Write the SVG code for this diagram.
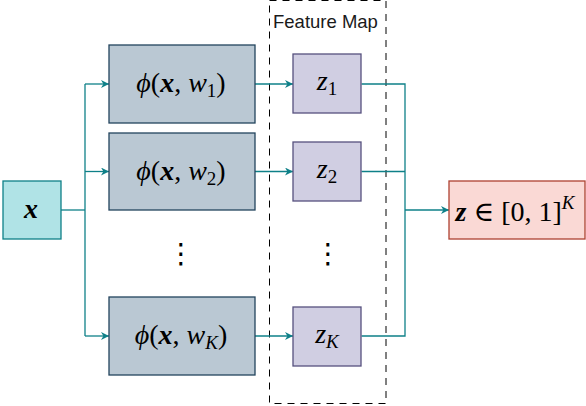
<svg xmlns="http://www.w3.org/2000/svg" width="586" height="406" viewBox="0 0 586 406">
<style>
.m{font-family:"Liberation Serif","DejaVu Serif",serif;font-style:italic;font-size:28px;fill:#000}
.b{font-weight:bold}
.up{font-style:normal}
.sub{font-size:19px}
.lbl{font-family:"Liberation Sans",Arial,sans-serif;font-size:18.5px;fill:#1a1a1a}
.dots{font-family:"DejaVu Sans",sans-serif;font-size:28px;fill:#000}
.phi{fill:#bac8d3;stroke:#23445d;stroke-width:1.3}
.z{fill:#d0cee2;stroke:#56517e;stroke-width:1.3}
.c{fill:none;stroke:#0e8088;stroke-width:1.3}
</style>
<defs>
<marker id="arr" viewBox="0 0 10 10" refX="10" refY="5" markerWidth="9" markerHeight="8" orient="auto" markerUnits="userSpaceOnUse">
<path d="M0,0 L10,5 L0,10 L3,5 z" fill="#0e8088"/>
</marker>
</defs>

<g id="feature-map">
<rect x="269.5" y="0.5" width="116.5" height="403" fill="none" stroke="#000" stroke-width="1" stroke-dasharray="7 6"/>
<text class="lbl" x="273" y="28">Feature Map</text>
</g>

<g id="connectors">
<path class="c" d="M61,210 H85" stroke-width="2"/>
<path class="c" d="M85,84 V336"/>
<path class="c" d="M85,84 H109" marker-end="url(#arr)"/>
<path class="c" d="M85,171.5 H109" marker-end="url(#arr)"/>
<path class="c" d="M85,336 H109" marker-end="url(#arr)"/>
<path class="c" d="M255,84 H293" marker-end="url(#arr)"/>
<path class="c" d="M255,171.5 H293" marker-end="url(#arr)"/>
<path class="c" d="M255,336 H293" marker-end="url(#arr)"/>
<path class="c" d="M361.5,84 H405 V336 H361.5"/>
<path class="c" d="M361.5,171.5 H405"/>
<path class="c" d="M405,210 H449" stroke-width="2" marker-end="url(#arr)"/>
</g>

<g id="node-x">
<rect x="3" y="181" width="58" height="58" fill="#b0e3e6" stroke="#0e8088" stroke-width="1.3"/>
<text class="m" x="31" y="218" text-anchor="middle" font-size="30"><tspan class="b">x</tspan></text>
</g>

<g id="node-phi1">
<rect class="phi" x="109" y="45" width="146" height="78"/>
<text class="m" x="181" y="92" text-anchor="middle">ϕ<tspan class="up">(</tspan><tspan class="b">x</tspan><tspan class="up">, </tspan>w<tspan class="sub up" dy="5">1</tspan><tspan class="up" dy="-5">)</tspan></text>
</g>

<g id="node-phi2">
<rect class="phi" x="109" y="133" width="146" height="77"/>
<text class="m" x="181" y="179.5" text-anchor="middle">ϕ<tspan class="up">(</tspan><tspan class="b">x</tspan><tspan class="up">, </tspan>w<tspan class="sub up" dy="5">2</tspan><tspan class="up" dy="-5">)</tspan></text>
</g>

<g id="node-phiK">
<rect class="phi" x="109" y="297" width="146" height="78"/>
<text class="m" x="181" y="344" text-anchor="middle">ϕ<tspan class="up">(</tspan><tspan class="b">x</tspan><tspan class="up">, </tspan>w<tspan class="sub" dy="5">K</tspan><tspan class="up" dy="-5">)</tspan></text>
</g>

<g id="dots-phi"><text class="dots" x="181" y="263" text-anchor="middle">⋮</text></g>
<g id="dots-z"><text class="dots" x="328" y="263" text-anchor="middle">⋮</text></g>

<g id="node-z1">
<rect class="z" x="293" y="54" width="68" height="59"/>
<text class="m" x="327" y="90" text-anchor="middle">z<tspan class="sub up" dy="5">1</tspan></text>
</g>

<g id="node-z2">
<rect class="z" x="293" y="142" width="68" height="59"/>
<text class="m" x="327" y="178" text-anchor="middle">z<tspan class="sub up" dy="5">2</tspan></text>
</g>

<g id="node-zK">
<rect class="z" x="293" y="307" width="68" height="59"/>
<text class="m" x="327" y="343" text-anchor="middle">z<tspan class="sub" dy="5">K</tspan></text>
</g>

<g id="node-out">
<rect x="449" y="181" width="136" height="58" fill="#fad9d5" stroke="#ae4132" stroke-width="1.3"/>
<text class="m" x="515" y="221" text-anchor="middle"><tspan class="b">z</tspan><tspan class="up"> ∈ [0, 1]</tspan><tspan class="sub" dy="-12">K</tspan></text>
</g>
</svg>
